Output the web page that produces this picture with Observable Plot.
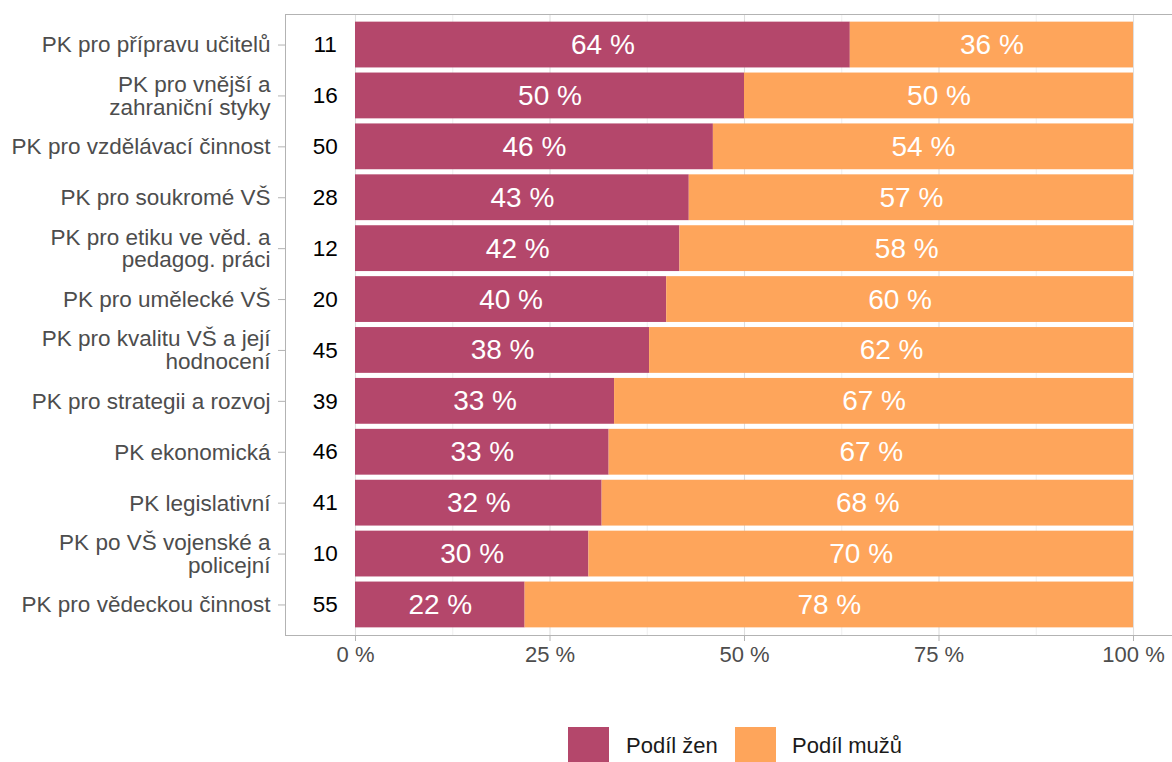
<!DOCTYPE html>
<html>
<head>
<meta charset="utf-8">
<script src="https://cdn.jsdelivr.net/npm/d3@7"></script>
<script src="https://cdn.jsdelivr.net/npm/@observablehq/plot@0.6"></script>
<style>
  html, body { margin: 0; padding: 0; background: #fff; overflow: hidden; }
  #chart { width: 1180px; }
  #chart svg { display: block; max-width: none !important; }
  #legend { position: relative; height: 62px; font-family: "Liberation Sans", Arial, sans-serif; }
  .sw { position: absolute; top: 27px; width: 41px; height: 41px; }
  .lt { position: absolute; top: 33px; font-size: 22px; color: #1a1a1a; line-height: 25px; }
</style>
</head>
<body>
<div id="chart"></div>
<div id="legend"></div>
<script>
const categories = [
  "PK pro přípravu učitelů",
  "PK pro vnější a\nzahraniční styky",
  "PK pro vzdělávací činnost",
  "PK pro soukromé VŠ",
  "PK pro etiku ve věd. a\npedagog. práci",
  "PK pro umělecké VŠ",
  "PK pro kvalitu VŠ a její\nhodnocení",
  "PK pro strategii a rozvoj",
  "PK ekonomická",
  "PK legislativní",
  "PK po VŠ vojenské a\npolicejní",
  "PK pro vědeckou činnost"
];
const counts = [11, 16, 50, 28, 12, 20, 45, 39, 46, 41, 10, 55];
const womenShare = [63.6, 50, 46, 42.9, 41.7, 40, 37.8, 33.3, 32.6, 31.7, 30, 21.8];
const menShare = [36.4, 50, 54, 57.1, 58.3, 60, 62.2, 66.7, 67.4, 68.3, 70, 78.2];
const series = ["Podíl žen", "Podíl mužů"];
const colors = ["#b4476b", "#fea55b"];
const xTicks = [0, 25, 50, 75, 100];
const xMinor = [12.5, 37.5, 62.5, 87.5];

const rows = [];
categories.forEach((c, i) => {
  rows.push({cat: c, series: series[0], value: womenShare[i]});
  rows.push({cat: c, series: series[1], value: menShare[i]});
});
const countRows = categories.map((c, i) => ({cat: c, n: counts[i]}));

const chart = Plot.plot({
  width: 1180,
  height: 700,
  marginLeft: 285,
  marginRight: 6,
  marginTop: 14,
  marginBottom: 65,
  style: {fontFamily: "Liberation Sans, Arial, sans-serif", fontSize: "22px", background: "white", maxWidth: "none"},
  x: {domain: [0, 100], range: [355, 1133]},
  y: {domain: categories, paddingInner: 0.1, paddingOuter: 0.15, round: false},
  color: {domain: series, range: colors},
  marks: [
    Plot.ruleX(xMinor, {stroke: "#e4e4e4", strokeWidth: 0.6}),
    Plot.ruleX(xTicks, {stroke: "#dedede", strokeWidth: 1.1}),
    Plot.barX(rows, Plot.stackX({y: "cat", x: "value", fill: "series"})),
    Plot.text(rows, Plot.stackX({y: "cat", x: "value", z: "series", text: d => Math.round(d.value) + " %", fill: "white", fontSize: 28})),
    Plot.text(countRows, {y: "cat", x: () => -3.9, text: "n", fill: "black", fontSize: 22.5}),
    Plot.frame({stroke: "#b3b3b3"}),
    Plot.axisY({label: null, tickSize: 7, tickPadding: 8, fontSize: 22.5, lineHeight: 1.02, stroke: "#b3b3b3", fill: "#4d4d4d"}),
    Plot.axisX({ticks: xTicks, tickFormat: d => d + " %", label: null, tickSize: 6, tickPadding: 5, fontSize: 22, stroke: "#b3b3b3", fill: "#4d4d4d"})
  ]
});
document.getElementById("chart").appendChild(chart);

const legend = document.getElementById("legend");
const swLeft = [568, 735];
const txLeft = [626, 792];
series.forEach((s, i) => {
  const sw = document.createElement("div");
  sw.className = "sw";
  sw.style.left = swLeft[i] + "px";
  sw.style.background = colors[i];
  legend.appendChild(sw);
  const t = document.createElement("div");
  t.className = "lt";
  t.style.left = txLeft[i] + "px";
  t.textContent = s;
  legend.appendChild(t);
});
</script>
</body>
</html>
